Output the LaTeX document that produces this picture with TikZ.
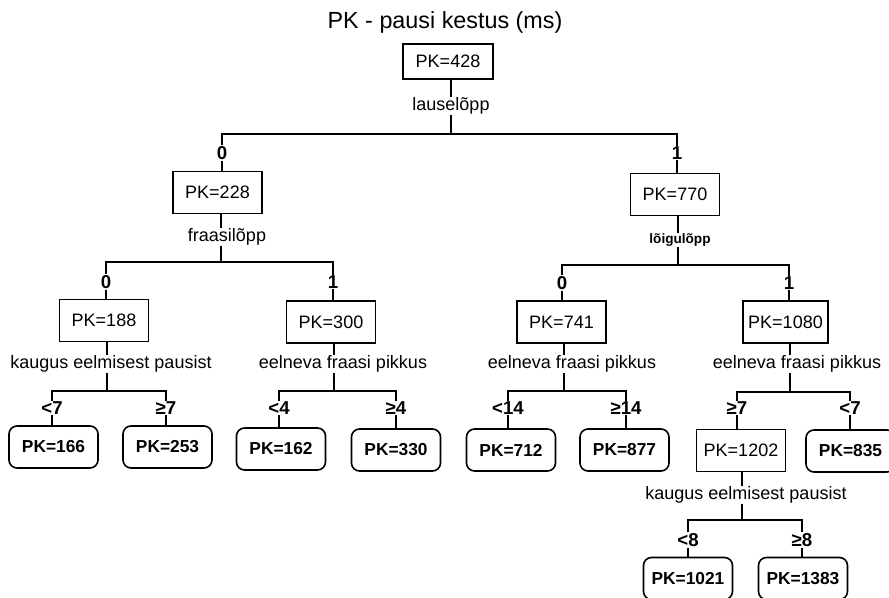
\documentclass[tikz,border=0pt]{standalone}
\usepackage{fontspec}
\setmainfont{Liberation Sans}
\begin{document}
\begin{tikzpicture}[x=0.75pt,y=-0.75pt,
  every node/.style={inner sep=0.5pt},
  box/.style={draw,line width=1.2pt,minimum width=66.75pt,minimum height=31.5pt,
    inner sep=2pt,font=\fontsize{13.5}{16}\selectfont},
  leaf/.style={box,rounded corners=6pt,font=\fontsize{13}{16}\selectfont\bfseries},
  split/.style={font=\fontsize{13.5}{16}\selectfont},
  branch/.style={font=\fontsize{14}{16}\selectfont\bfseries},
  conn/.style={line width=1.1pt}]
\clip (0,0) rectangle (889,598);

% title
\node[font=\fontsize{17.5}{20}\selectfont] (title) at (445,22) {PK - pausi kestus (ms)};

% root split: lauselõpp
\node[box,minimum height=26.25pt,minimum width=67.5pt] (n428) at (448,61.5) {PK=428};
\node[split] (lA) at (451,106) {lauselõpp};
\coordinate (sA) at (451,134);
\node[branch] (bA0) at (222,153) {0};
\node[branch] (bA1) at (677,153) {1};
\node[box] (n228) at (217.5,192.5) {PK=228};
\node[box] (n770) at (675,194.5) {PK=770};

% fraasilõpp
\node[split] (lB) at (227,237) {fraasilõpp};
\coordinate (sB) at (221,262);
\node[branch] (bB0) at (106,282) {0};
\node[branch] (bB1) at (333,282) {1};
\node[box] (n188) at (104,320.5) {PK=188};
\node[box] (n300) at (331,322) {PK=300};

% lõigulõpp
\node[split,font=\fontsize{10.2}{12}\selectfont\bfseries] (lC) at (680,240) {lõigulõpp};
\coordinate (sC) at (678,265);
\node[branch] (bC0) at (562,283) {0};
\node[branch] (bC1) at (789,283) {1};
\node[box] (n741) at (561.5,322) {PK=741};
\node[box,minimum width=63.75pt] (n1080) at (785.5,322) {PK=1080};

% level three splits
\node[split] (lD) at (111,364) {kaugus eelmisest pausist};
\coordinate (sD) at (107,391);
\node[branch] (bD0) at (52,408) {<7};
\node[branch] (bD1) at (166,408) {≥7};
\node[leaf] (n166) at (53.5,447) {PK=166};
\node[leaf] (n253) at (167.5,447) {PK=253};

\node[split] (lE) at (343,364) {eelneva fraasi pikkus};
\coordinate (sE) at (334,391);
\node[branch] (bE0) at (279,408) {<4};
\node[branch] (bE1) at (396,408) {≥4};
\node[leaf] (n162) at (281,449) {PK=162};
\node[leaf] (n330) at (396,450) {PK=330};

\node[split] (lF) at (572,364) {eelneva fraasi pikkus};
\coordinate (sF) at (564,391);
\node[branch] (bF0) at (508,408) {<14};
\node[branch] (bF1) at (626,408) {≥14};
\node[leaf] (n712) at (511,450) {PK=712};
\node[leaf] (n877) at (624.5,450) {PK=877};

\node[split] (lG) at (797,364) {eelneva fraasi pikkus};
\coordinate (sG) at (790,392);
\node[branch] (bG0) at (737,408) {≥7};
\node[branch] (bG1) at (850,408) {<7};
\node[box] (n1202) at (741,450.5) {PK=1202};
\node[leaf] (n835) at (850.5,451) {PK=835};

% level four split
\node[split] (lH) at (746,495) {kaugus eelmisest pausist};
\coordinate (sH) at (742,520);
\node[branch] (bH0) at (688,540) {<8};
\node[branch] (bH1) at (802,540) {≥8};
\node[leaf] (n1021) at (688,578.5) {PK=1021};
\node[leaf] (n1383) at (803,578.5) {PK=1383};

% connectors: parent -> split label -> bar -> branch labels -> children
\foreach \p/\l/\s/\ba/\bb/\ca/\cb in {
  n428/lA/sA/bA0/bA1/n228/n770,
  n228/lB/sB/bB0/bB1/n188/n300,
  n770/lC/sC/bC0/bC1/n741/n1080,
  n188/lD/sD/bD0/bD1/n166/n253,
  n300/lE/sE/bE0/bE1/n162/n330,
  n741/lF/sF/bF0/bF1/n712/n877,
  n1080/lG/sG/bG0/bG1/n1202/n835,
  n1202/lH/sH/bH0/bH1/n1021/n1383}{
  \draw[conn] (\p.south -| \s) -- (\l.north -| \s);
  \draw[conn] (\l.south -| \s) -- (\s);
  \draw[conn] (\ba.north) |- (\s) -| (\bb.north);
  \draw[conn] (\ba.south) -- (\ba.south |- \ca.north);
  \draw[conn] (\bb.south) -- (\bb.south |- \cb.north);
}
\end{tikzpicture}
\end{document}
